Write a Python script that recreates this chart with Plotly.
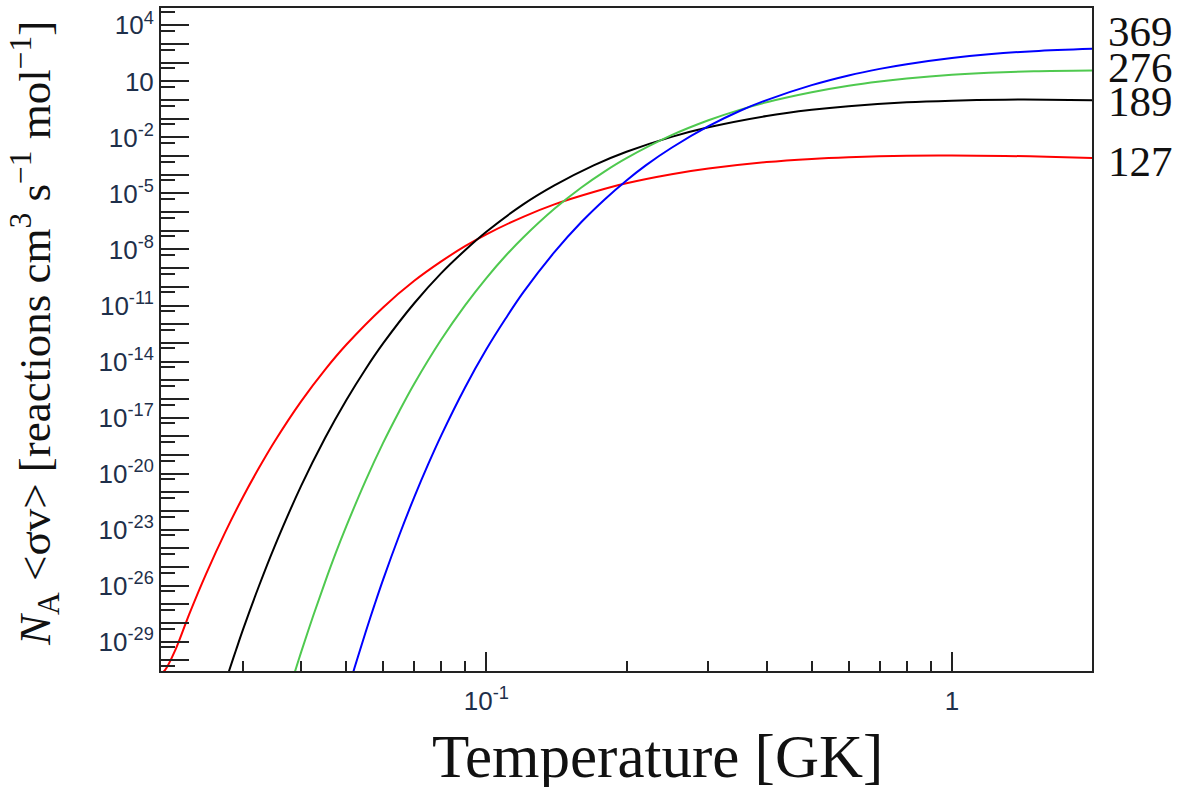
import plotly.graph_objects as go

# Temperature grid (GK) and reaction rates N_A<sigma v> for each resonance (keV label)
t_127 = [0.0200, 0.0204, 0.0215, 0.023, 0.025, 0.0275, 0.030, 0.0325, 0.035, 0.040, 0.045, 0.050,
         0.060, 0.070, 0.080, 0.090, 0.10, 0.12, 0.14, 0.17, 0.20, 0.25, 0.30, 0.40, 0.50, 0.60,
         0.80, 1.0, 1.3, 1.6, 2.0]
r_127 = [2.0e-31, 3.0e-31, 3.9e-30, 3.0e-28, 4.3e-26, 7.6e-24, 5.6e-22, 2.1e-20, 4.8e-19, 7.4e-17,
         3.6e-15, 7.9e-14, 7.9e-12, 2.1e-10, 2.3e-9, 1.5e-8, 6.5e-8, 5.6e-7, 2.6e-6, 1.2e-5,
         3.5e-5, 1.07e-4, 2.14e-4, 4.8e-4, 7.1e-4, 8.7e-4, 1.05e-3, 1.07e-3, 1.02e-3, 9.3e-4, 7.9e-4]

t_189 = [0.0275, 0.028, 0.029, 0.030, 0.0325, 0.035, 0.040, 0.045, 0.050, 0.055, 0.060, 0.070,
         0.080, 0.090, 0.10, 0.12, 0.14, 0.17, 0.20, 0.25, 0.30, 0.40, 0.50, 0.60, 0.80, 1.0,
         1.3, 1.6, 2.0]
r_189 = [6.6e-32, 2.7e-31, 3.7e-30, 4.4e-29, 1.02e-26, 1.10e-24, 2.2e-21, 7.8e-19, 8.5e-17, 3.9e-15,
         9.3e-14, 1.32e-11, 5.4e-10, 9.1e-9, 8.9e-8, 2.6e-6, 2.7e-5, 3.2e-4, 1.70e-3, 1.07e-2,
         3.5e-2, 0.141, 0.30, 0.47, 0.76, 0.93, 1.05, 1.05, 0.98]

t_276 = [0.038, 0.039, 0.040, 0.0425, 0.045, 0.0475, 0.050, 0.055, 0.060, 0.065, 0.070, 0.080,
         0.090, 0.10, 0.11, 0.12, 0.14, 0.16, 0.18, 0.20, 0.25, 0.30, 0.35, 0.40, 0.50, 0.60,
         0.70, 0.80, 1.0, 1.2, 1.5, 2.0]
r_276 = [4.7e-32, 3.8e-31, 2.75e-30, 2.6e-28, 1.5e-26, 5.8e-25, 1.48e-23, 4.1e-21, 4.4e-19, 2.2e-17,
         6.5e-16, 1.51e-13, 1.02e-11, 2.95e-10, 4.6e-9, 4.4e-8, 1.51e-6, 2.1e-5, 1.58e-4, 7.8e-4,
         1.32e-2, 8.3e-2, 0.30, 0.76, 2.6, 5.8, 9.8, 14.1, 22.4, 28.8, 34.7, 38.0]

t_369 = [0.049, 0.050, 0.0515, 0.053, 0.055, 0.0575, 0.060, 0.065, 0.070, 0.075, 0.080, 0.090,
         0.10, 0.11, 0.12, 0.14, 0.16, 0.18, 0.20, 0.22, 0.25, 0.30, 0.35, 0.40, 0.50, 0.60,
         0.70, 0.80, 1.0, 1.2, 1.5, 2.0]
r_369 = [2.2e-33, 1.26e-32, 1.55e-31, 1.62e-30, 3.1e-29, 9.3e-28, 2.1e-26, 5.0e-24, 5.5e-22, 3.2e-20,
         1.12e-18, 4.1e-16, 4.5e-14, 2.0e-12, 5.0e-11, 7.2e-9, 2.95e-7, 5.1e-6, 5.0e-5, 3.2e-4,
         2.8e-3, 4.0e-2, 0.26, 1.0, 6.3, 20.9, 46.8, 83, 178, 282, 417, 560]

series = [
    ("127", t_127, r_127, "#ff0000"),
    ("189", t_189, r_189, "#000000"),
    ("276", t_276, r_276, "#4fc94f"),
    ("369", t_369, r_369, "#0000ff"),
]

# y tick labels every third decade
y_decades = list(range(-30, 5))
y_labeled = [4, 1, -2, -5, -8, -11, -14, -17, -20, -23, -26, -29]


def decade_label(k):
    if k in y_labeled:
        return "10" if k == 1 else "10<sup>%d</sup>" % k
    return ""


y_tickvals = [10.0 ** k for k in y_decades]
y_ticktext = [decade_label(k) for k in y_decades]
y_minor = [5 * 10.0 ** k for k in range(-31, 5)]

x_tickvals = [0.1, 1.0]
x_ticktext = ["10<sup>-1</sup>", "1"]
x_minor = [m * 0.01 for m in range(3, 10)] + [m * 0.1 for m in range(2, 10)]

label_pos = {"369": 0.964, "276": 0.910, "189": 0.8595, "127": 0.7685}

fig = go.Figure()
for name, t, r, color in series:
    fig.add_trace(go.Scatter(x=t, y=r, mode="lines", name=name,
                             line=dict(color=color, width=2, shape="spline"),
                             showlegend=False, hoverinfo="skip"))

tick_font = dict(family="Liberation Sans, Arial, sans-serif", size=26, color="#1e2f4a")
serif = "Liberation Serif, Times New Roman, serif"

fig.update_layout(
    width=1189, height=787,
    margin=dict(l=161, r=97, t=6, b=116),
    paper_bgcolor="white", plot_bgcolor="white",
    xaxis=dict(type="log", range=[-1.69897, 0.30103],
               showline=True, linecolor="#222", linewidth=2, mirror=True,
               showgrid=False, zeroline=False,
               tickmode="array", tickvals=x_tickvals, ticktext=x_ticktext,
               ticks="inside", ticklen=19, tickwidth=2, tickcolor="#222",
               tickfont=tick_font, ticklabelstandoff=6,
               minor=dict(tickmode="array", tickvals=x_minor, ticks="inside",
                          ticklen=10, tickwidth=2, tickcolor="#222", showgrid=False)),
    yaxis=dict(type="log", range=[-30.57, 4.93],
               showline=True, linecolor="#222", linewidth=2, mirror=True,
               showgrid=False, zeroline=False,
               tickmode="array", tickvals=y_tickvals, ticktext=y_ticktext,
               ticks="inside", ticklen=28, tickwidth=2, tickcolor="#222",
               tickfont=tick_font,
               minor=dict(tickmode="array", tickvals=y_minor, ticks="inside",
                          ticklen=14, tickwidth=2, tickcolor="#222", showgrid=False)),
)

annotations = [
    dict(text="Temperature [GK]", xref="paper", yref="paper", x=0.5328, y=-0.129,
         xanchor="center", yanchor="middle", showarrow=False,
         font=dict(family=serif, size=61, color="#111")),
    dict(text="<i>N</i><sub>A</sub> &lt;σv&gt; [reactions cm<sup>3</sup> s<sup>−1</sup> mol<sup>−1</sup>]",
         xref="paper", yref="paper", x=-0.136, y=0.509, textangle=-90,
         xanchor="center", yanchor="middle", showarrow=False,
         font=dict(family=serif, size=45, color="#111")),
]
for name, ypos in label_pos.items():
    annotations.append(dict(text=name, xref="paper", yref="paper", x=1.015, y=ypos,
                            xanchor="left", yanchor="middle", showarrow=False,
                            font=dict(family=serif, size=43, color="#111")))
fig.update_layout(annotations=annotations)

fig.write_html("out.html")
